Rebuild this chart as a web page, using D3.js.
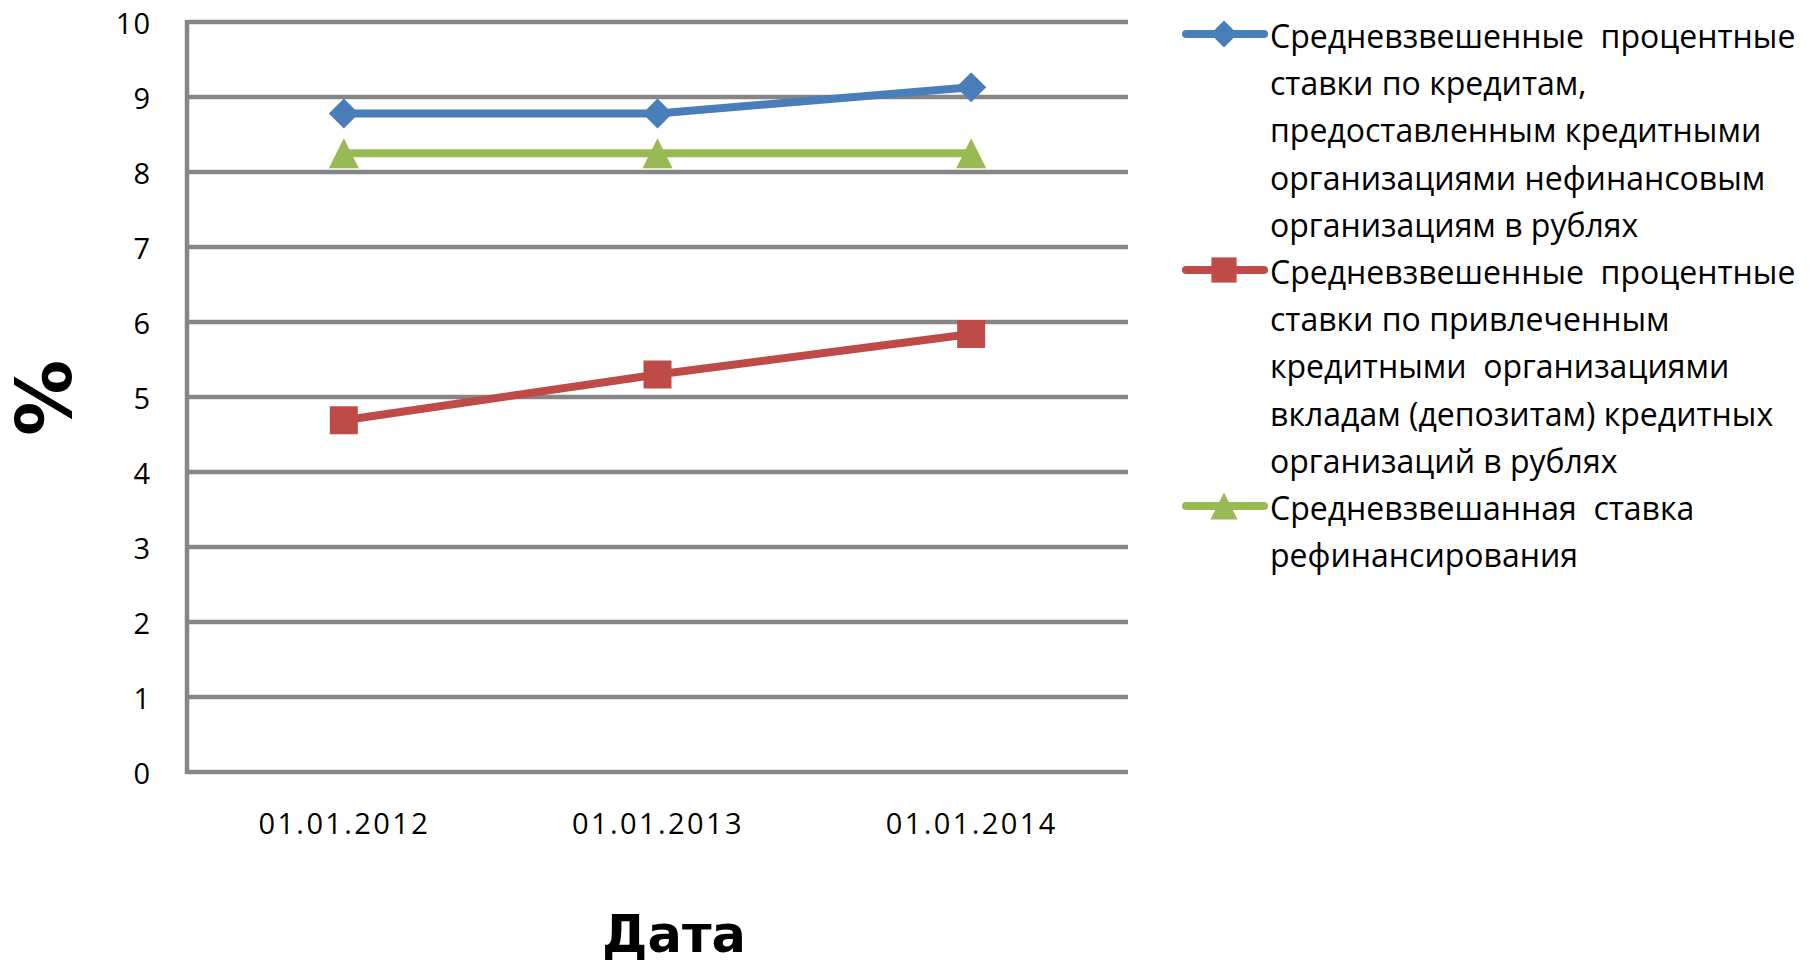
<!DOCTYPE html>
<html>
<head>
<meta charset="utf-8">
<script src="https://cdn.jsdelivr.net/npm/d3@7"></script>
<style>
  html, body { margin: 0; padding: 0; background: #ffffff; }
  svg { display: block; }
</style>
</head>
<body>
<svg id="chart" width="1810" height="968"></svg>
<script>
const categories = ["01.01.2012", "01.01.2013", "01.01.2014"];
const loansRates = [8.78, 8.78, 9.13];
const depositRates = [4.69, 5.30, 5.84];
const refinancingRate = [8.25, 8.25, 8.25];
const yTicks = [0, 1, 2, 3, 4, 5, 6, 7, 8, 9, 10];
const seriesNames = [
  ["Средневзвешенные  процентные", "ставки по кредитам,", "предоставленным кредитными", "организациями нефинансовым", "организациям в рублях"],
  ["Средневзвешенные  процентные", "ставки по привлеченным", "кредитными  организациями", "вкладам (депозитам) кредитных", "организаций в рублях"],
  ["Средневзвешанная  ставка", "рефинансирования"]
];
const seriesColors = ["#4a7ebb", "#be4b48", "#98b954"];
const seriesMarkers = ["diamond", "square", "triangle"];
const yTitle = "%";
const xTitle = "Дата";

const svg = d3.select("#chart");
const plotLeft = 187, plotRight = 1128, plotTop = 22, plotBottom = 772;

const x = d3.scalePoint().domain(categories).range([plotLeft, plotRight]).padding(0.5);
const y = d3.scaleLinear().domain([0, 10]).range([plotBottom, plotTop]);

const gridColor = "#868686";

// grid lines
svg.append("g").selectAll("line").data(yTicks).join("line")
  .attr("x1", plotLeft).attr("x2", plotRight)
  .attr("y1", d => y(d)).attr("y2", d => y(d))
  .attr("stroke", gridColor).attr("stroke-width", 4.5);

// vertical axis line
svg.append("line").attr("x1", plotLeft).attr("x2", plotLeft)
  .attr("y1", y(10) - 2).attr("y2", y(0) + 2)
  .attr("stroke", gridColor).attr("stroke-width", 4.5);

// y axis labels
const yAxis = d3.axisLeft(y).tickValues(yTicks).tickSize(0).tickPadding(0).tickFormat(d3.format("d"));
const gy = svg.append("g").attr("transform", `translate(${plotLeft - 36},0)`).call(yAxis);
gy.select(".domain").remove();
gy.selectAll("text")
  .attr("font-family", "'Open Sans', sans-serif").attr("font-size", 29)
  .attr("fill", "#000").attr("dy", "0.40em").attr("letter-spacing", 1);

// x axis labels
const xAxis = d3.axisBottom(x).tickSize(0).tickPadding(0);
const gx = svg.append("g").attr("transform", `translate(0,${plotBottom})`).call(xAxis);
gx.select(".domain").remove();
gx.selectAll("text")
  .attr("font-family", "'Open Sans', sans-serif").attr("font-size", 29)
  .attr("fill", "#000").attr("y", 62).attr("dy", 0).attr("letter-spacing", 2.4);

// axis titles
svg.append("text").text(yTitle)
  .attr("transform", `translate(71,398) rotate(-90)`)
  .attr("text-anchor", "middle")
  .attr("font-family", "'DejaVu Sans', sans-serif").attr("font-weight", "bold")
  .attr("font-size", 76).attr("fill", "#000");

svg.append("text").text(xTitle)
  .attr("x", 674).attr("y", 952)
  .attr("text-anchor", "middle")
  .attr("font-family", "'DejaVu Sans', sans-serif").attr("font-weight", "bold")
  .attr("font-size", 51).attr("fill", "#000");

// custom marker shapes: size is the marker's full width/height in px
const markerPath = {
  diamond: s => `M0,${-s / 2}L${s / 2},0L0,${s / 2}L${-s / 2},0Z`,
  square: s => `M${-s / 2},${-s / 2}H${s / 2}V${s / 2}H${-s / 2}Z`,
  triangle: s => `M0,${-s / 2}L${s / 2},${s / 2}L${-s / 2},${s / 2}Z`
};
const markerSize = { diamond: 30, square: 28, triangle: 30 };

const allSeries = [loansRates, depositRates, refinancingRate];
const line = d3.line().x((d, i) => x(categories[i])).y(d => y(d));

allSeries.forEach((vals, si) => {
  const g = svg.append("g");
  const m = seriesMarkers[si];
  g.append("path").datum(vals).attr("d", line)
    .attr("fill", "none").attr("stroke", seriesColors[si]).attr("stroke-width", 8);
  g.selectAll("path.m").data(vals).join("path").attr("class", "m")
    .attr("transform", (d, i) => `translate(${x(categories[i])},${y(d)})`)
    .attr("d", markerPath[m](markerSize[m]))
    .attr("fill", seriesColors[si]);
});

// legend
const lineH = 47.2;
let row = 0;
const legendX = 1270, legendBase = 48;
seriesNames.forEach((lines, si) => {
  const base = legendBase + row * lineH;
  const my = base - 14;
  const m = seriesMarkers[si];
  const g = svg.append("g");
  g.append("line").attr("x1", 1186).attr("x2", 1264).attr("y1", my).attr("y2", my)
    .attr("stroke", seriesColors[si]).attr("stroke-width", 8).attr("stroke-linecap", "round");
  g.append("path")
    .attr("transform", `translate(1224,${my})`)
    .attr("d", markerPath[m](markerSize[m] * 0.9))
    .attr("fill", seriesColors[si]);
  lines.forEach((t, li) => {
    g.append("text").text(t)
      .attr("x", legendX).attr("y", base + li * lineH)
      .style("white-space", "pre")
      .attr("font-family", "'Open Sans', sans-serif").attr("font-size", 32)
      .attr("fill", "#000");
  });
  row += lines.length;
});
</script>
</body>
</html>
